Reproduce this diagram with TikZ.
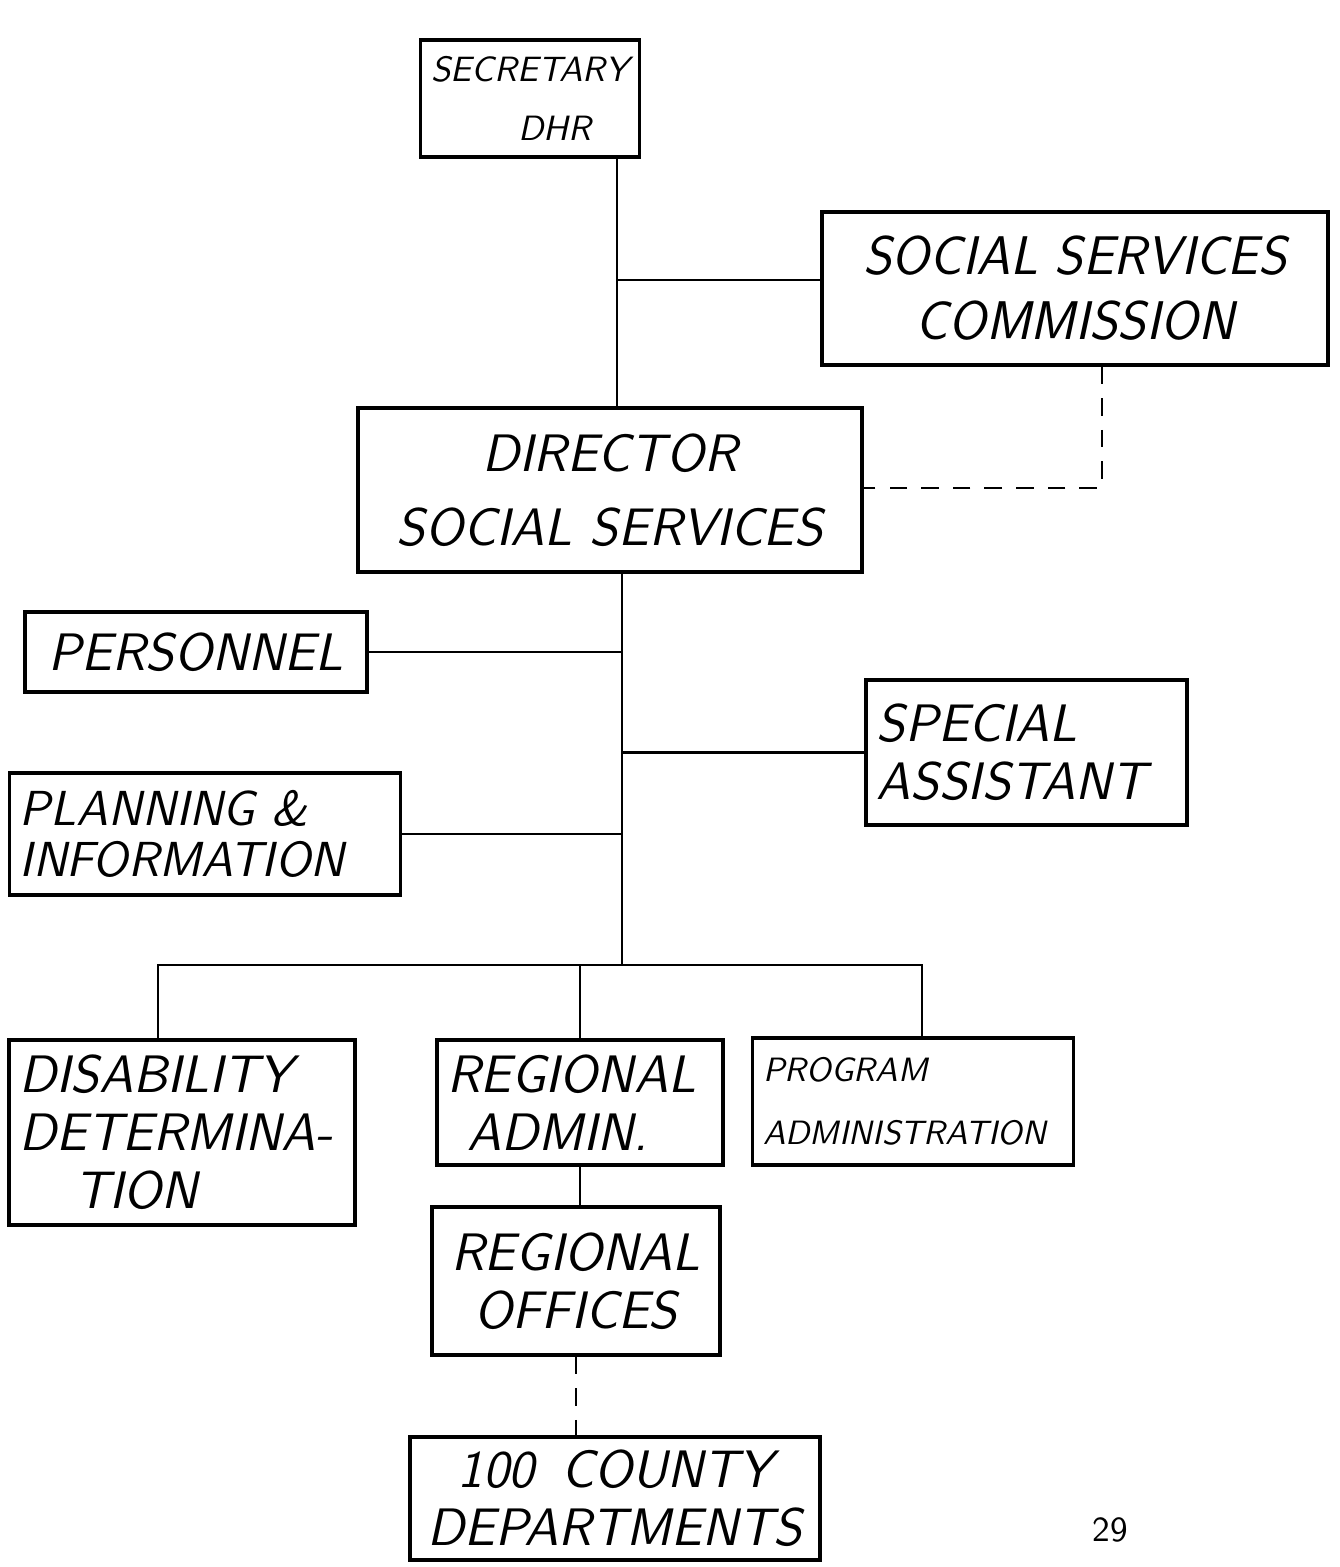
\documentclass[tikz,border=0pt]{standalone}
\usepackage{tikz}
\usetikzlibrary{calc}
\tikzstyle{box} = [rectangle, draw=black, line width=0.9pt, inner xsep=3pt, inner ysep=3pt, font=\sffamily\slshape\fontsize{15}{16.5}\selectfont]
\tikzstyle{lbox} = [box, align=left]
\tikzstyle{cbox} = [box, align=center]
\tikzstyle{line} = [line width=0.8pt]
\tikzstyle{dline} = [line width=0.8pt, dash pattern=on 5pt off 4pt]

\begin{document}
\begin{tikzpicture}
  \useasboundingbox (0,0) rectangle (13.4,-15.67);
  %定义组织结构图方框
  \node (sec) [cbox, minimum width=2.15cm, minimum height=1.17cm, font=\sffamily\slshape\fontsize{10}{17}\selectfont] at (5.30,-0.985) {SECRETARY\\\hspace*{0.5cm}DHR};
  \node (comm) [cbox, minimum width=5.06cm, minimum height=1.53cm, font=\sffamily\slshape\fontsize{15.5}{18.5}\selectfont] at (10.75,-2.885) {SOCIAL SERVICES\\COMMISSION};
  \node (dir) [cbox, minimum width=5.04cm, minimum height=1.64cm, font=\sffamily\slshape\fontsize{15}{21}\selectfont] at (6.10,-4.90) {DIRECTOR\\SOCIAL SERVICES};
  \node (pers) [cbox, minimum width=3.42cm, minimum height=0.80cm] at (1.96,-6.52) {PERSONNEL};
  \node (spec) [lbox, text width=3.0cm, minimum height=1.45cm] at (10.265,-7.525) {SPECIAL\\ASSISTANT};
  \node (plan) [lbox, text width=3.7cm, minimum height=1.22cm, font=\sffamily\slshape\fontsize{14}{14.5}\selectfont] at (2.05,-8.34) {PLANNING \&\\INFORMATION};
  \node (dis) [lbox, text width=3.25cm, minimum height=1.85cm] at (1.82,-11.325) {DISABILITY\\DETERMINA-\\\hspace*{0.55cm}TION};
  \node (radm) [lbox, text width=2.65cm, minimum height=1.25cm] at (5.80,-11.025) {REGIONAL\\\hspace*{0.2cm}ADMIN.};
  \node (prog) [lbox, text width=3.0cm, minimum height=1.27cm, font=\sffamily\slshape\fontsize{9.6}{18}\selectfont] at (9.13,-11.015) {PROGRAM\\ADMINISTRATION};
  \node (roff) [cbox, minimum width=2.88cm, minimum height=1.48cm] at (5.76,-12.81) {REGIONAL\\OFFICES};
  \node (cty) [cbox, minimum width=4.10cm, minimum height=1.23cm] at (6.15,-14.985) {100\enspace COUNTY\\DEPARTMENTS};
  \node (pagenum) [font=\sffamily\fontsize{10}{12}\selectfont] at (11.10,-15.30) {29};

  %分支点
  \coordinate (t1) at (6.17,-2.80);
  \coordinate (c1) at (11.02,-4.88);
  \coordinate (t2) at (6.22,-9.65);
  \coordinate (bl) at (1.58,-9.65);
  \coordinate (br) at (9.22,-9.65);

  %连接方框
  \draw [line](sec.south -| t1) -- (dir.north -| t1);
  \draw [line](t1) -- (comm.west |- t1);
  \draw [dline](c1 |- comm.south) -- (c1) -- (dir.east |- c1);
  \draw [line](dir.south -| t2) -- (t2);
  \draw [line](pers.east) -- (pers.east -| t2);
  \draw [line](spec.west) -- (spec.west -| t2);
  \draw [line](plan.east) -- (plan.east -| t2);
  \draw [line](dis.north -| bl) -- (bl) -- (br) -- (prog.north -| br);
  \draw [line](radm.north) -- (radm.north |- bl);
  \draw [line](radm.south) -- (radm.south |- roff.north);
  \draw [dline](roff.south) -- (roff.south |- cty.north);
\end{tikzpicture}
\end{document}
